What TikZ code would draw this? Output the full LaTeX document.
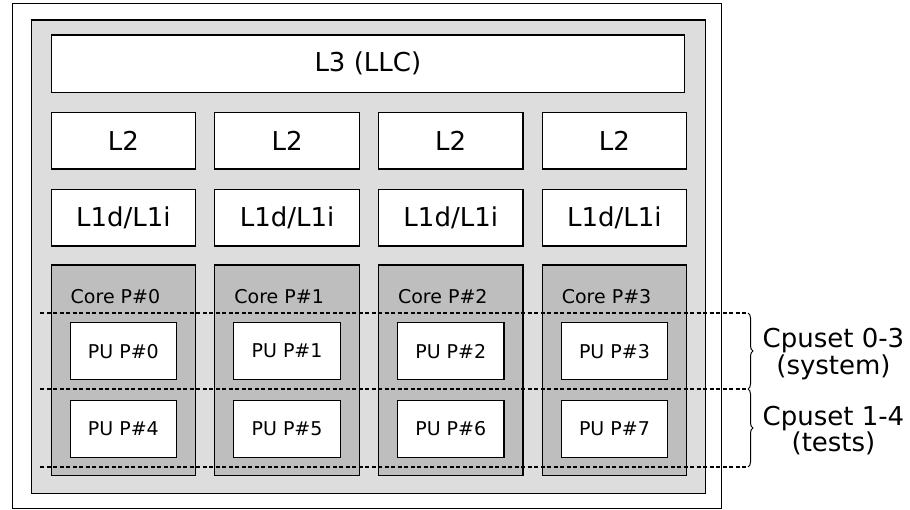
\documentclass[tikz,border=0pt]{standalone}
\usepackage{fontspec}
\setmainfont{DejaVu Sans}
\usetikzlibrary{decorations.pathreplacing}
\definecolor{pkggray}{RGB}{221,221,221}
\definecolor{coregray}{RGB}{190,190,190}
\tikzset{
  box/.style={draw, line width=1.2pt, inner sep=0pt, anchor=north west},
  bigtext/.style={font=\fontsize{26}{26}\selectfont},
  smalltext/.style={font=\fontsize{19}{20}\selectfont},
  cachebox/.style={box, fill=white, bigtext, minimum width=144.5pt, minimum height=56.5pt},
  corebox/.style={box, fill=coregray, minimum width=144.5pt, minimum height=210.5pt},
  pubox/.style={box, fill=white, smalltext, minimum width=106.5pt, minimum height=57pt},
  cutline/.style={line width=1.2pt, dash pattern=on 4pt off 2.5pt},
  setbrace/.style={line width=1pt, decorate, decoration={brace, amplitude=5pt}},
  setlabel/.style={font=\fontsize{26}{25}\selectfont, align=center, inner sep=0pt}
}
\begin{document}
\begin{tikzpicture}[x=1pt, y=-1pt]
  \useasboundingbox (0,0) rectangle (910,510);
  % machine and package
  \node[box, line width=1pt, minimum width=708.5pt, minimum height=505pt] (machine) at (12,3) {};
  \node[box, fill=pkggray, minimum width=674pt, minimum height=473.5pt] (package) at (31,19.5) {};
  % shared cache
  \node[cachebox, minimum width=633.5pt, minimum height=57.5pt] (l3) at (50.5,34.5) {L3 (LLC)};
  % one column per core
  \foreach \i in {0,1,2,3} {
    \node[cachebox] (l2-\i) at ({50.5+163.7*\i},112) {L2};
    \node[cachebox] (l1-\i) at ({50.5+163.7*\i},189) {L1d/L1i};
    \node[corebox] (core-\i) at ({50.5+163.7*\i},264.5) {};
    \node[smalltext, anchor=base west, inner sep=0pt] (corename-\i) at ({70.5+163.7*\i},304) {Core P\#\i};
  }
  % hardware threads
  \foreach \i/\j in {0/4,1/5,2/6,3/7} {
    \node[pubox] (pu-\i) at ({69.5+163.7*\i},322) {PU P\#\i};
    \node[pubox, minimum height=57.5pt] (pu-\j) at ({69.5+163.7*\i},399.5) {PU P\#\j};
  }
  % cpuset borders
  \foreach \n/\y in {a/313,b/389,c/467} {
    \coordinate (cut-\n-w) at (40,\y);
    \coordinate (cut-\n-e) at (748,\y);
    \draw[cutline] (cut-\n-w) -- (cut-\n-e);
  }
  \draw[setbrace] (cut-a-e) -- (cut-b-e);
  \draw[setbrace] (cut-b-e) -- (cut-c-e);
  \node[setlabel] (set-system) at (833.5,354) {Cpuset 0-3\\(system)};
  \node[setlabel] (set-tests) at (833.5,430.5) {Cpuset 1-4\\(tests)};
\end{tikzpicture}
\end{document}
